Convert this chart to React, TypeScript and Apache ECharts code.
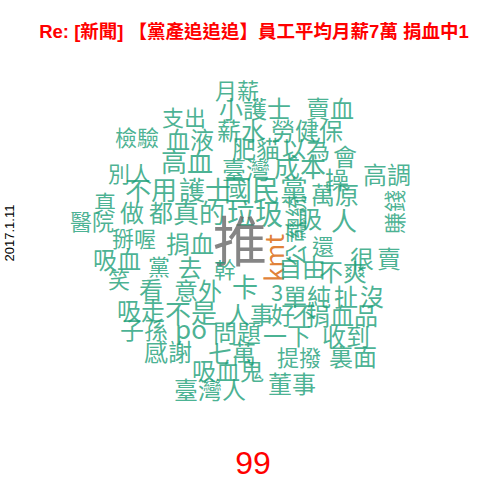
import React, { useEffect, useRef } from "react";
import * as echarts from "echarts";

const titleText = "Re: [新聞] 【黨產追追追】員工平均月薪7萬 捐血中1";
const dateText = "2017.1.11";
const pushCount = "99";

// word cloud: words, their frequencies and their place in the cloud plane
const words = [
  "月薪", "小護士", "賣血", "支出", "薪水", "勞健保", "檢驗", "血液", "肥貓", "以為",
  "會", "高血", "臺灣", "成本", "高調", "別人", "操", "不用", "護士", "國民黨",
  "萬原", "真", "做", "都", "真的", "垃圾", "總統", "吸", "人", "賺錢",
  "醫院", "掰喔", "捐血", "推", "kmt", "公司", "還", "很", "賣", "吸血",
  "黨", "去", "幹", "自由", "不爽", "笑", "看", "意外", "卡", "3",
  "單純", "扯", "沒", "吸走", "不是", "人事", "好", "不", "捐血品", "子孫",
  "po", "問題", "一下", "收到", "感謝", "七萬", "提撥", "裏面", "吸血鬼", "董事",
  "臺灣人",
];
const freqs = [
  3, 4, 4, 3, 4, 4, 3, 4, 4, 4,
  4, 5, 4, 5, 4, 3, 4, 5, 5, 6,
  4, 3, 4, 4, 5, 6, 3, 4, 5, 3,
  3, 3, 4, 19, 6, 3, 3, 4, 4, 4,
  3, 4, 3, 4, 4, 3, 4, 4, 5, 3,
  4, 4, 4, 4, 5, 4, 4, 4, 4, 4,
  5, 4, 4, 4, 4, 4, 3, 4, 4, 4,
  4,
];
const wx = [
  237, 255, 330, 184, 241, 307, 137, 190, 256, 306,
  345, 187, 246, 300, 387, 130, 337, 151, 205, 266,
  335, 105, 132, 161, 199, 255, 294, 310, 344, 393,
  92, 134, 190, 240, 272, 294, 323, 362, 389, 117,
  159, 190, 225, 302, 343, 119, 151, 198, 245, 277,
  307, 346, 372, 141, 191, 250, 283, 304, 342, 144,
  191, 237, 287, 346, 168, 232, 299, 353, 228, 292,
  210,
];
const wy = [
  89, 107, 107, 116, 129, 129, 136, 138, 147, 147,
  155, 160, 168, 165, 173, 172, 178, 188, 188, 189,
  193, 201, 211, 211, 211, 213, 217, 217, 219, 212,
  220, 237, 242, 238, 258, 244, 245, 257, 257, 258,
  265, 266, 268, 266, 270, 278, 288, 289, 285, 291,
  295, 295, 295, 309, 311, 313, 313, 313, 314, 328,
  327, 331, 334, 335, 350, 352, 356, 355, 369, 382,
  388,
];
const rotated = ["kmt", "總統", "賺錢", "公司"];

const palette = ["#1b9e77", "#d95f02", "#666666"];

function sizeOf(f: number) {
  return 16 + f * 2;
}
function colorOf(w: string, f: number) {
  if (f >= 10) return palette[2];
  if (/^[a-z]+$/.test(w) && f >= 6) return palette[1];
  return palette[0];
}

export default function App() {
  const ref = useRef<HTMLDivElement>(null);
  useEffect(() => {
    if (!ref.current) return;
    const chart = echarts.init(ref.current, null, { renderer: "svg" });
    const data = words.map((w, i) => {
      const f = freqs[i];
      const isKmt = w === "kmt";
      return {
        value: [wx[i], wy[i]],
        name: w,
        label: {
          show: true,
          formatter: w,
          fontSize: isKmt ? 26 : sizeOf(f),
          color: colorOf(w, f),
          rotate: rotated.includes(w) ? 90 : 0,
        },
      };
    });
    chart.setOption({
      animation: false,
      backgroundColor: "#ffffff",
      grid: { left: 0, right: 0, top: 0, bottom: 0 },
      xAxis: { type: "value", min: 0, max: 480, show: false },
      yAxis: { type: "value", min: 0, max: 480, inverse: true, show: false },
      series: [
        {
          type: "scatter",
          symbolSize: 0,
          data,
          label: {
            show: true,
            position: "inside",
            fontFamily: "'Noto Sans CJK TC', 'Noto Sans', sans-serif",
            fontWeight: "normal",
          },
          labelLayout: { hideOverlap: false },
          emphasis: { disabled: true },
        },
      ],
      graphic: [
        {
          type: "text",
          x: 254,
          y: 31,
          style: {
            text: titleText,
            fill: "#ff0000",
            font: "bold 18.5px 'Liberation Sans', 'Noto Sans CJK TC', sans-serif",
            align: "center",
            verticalAlign: "middle",
          },
        },
        {
          type: "text",
          x: 9,
          y: 233,
          rotation: Math.PI / 2,
          style: {
            text: dateText,
            fill: "#000000",
            font: "13px 'Liberation Sans', sans-serif",
            align: "center",
            verticalAlign: "middle",
          },
        },
        {
          type: "text",
          x: 253,
          y: 463,
          style: {
            text: pushCount,
            fill: "#ff0000",
            font: "32px 'Liberation Sans', sans-serif",
            align: "center",
            verticalAlign: "middle",
          },
        },
      ],
    });
    return () => chart.dispose();
  }, []);
  return <div ref={ref} style={{ width: 480, height: 480, position: "absolute", left: 0, top: 0 }} />;
}
